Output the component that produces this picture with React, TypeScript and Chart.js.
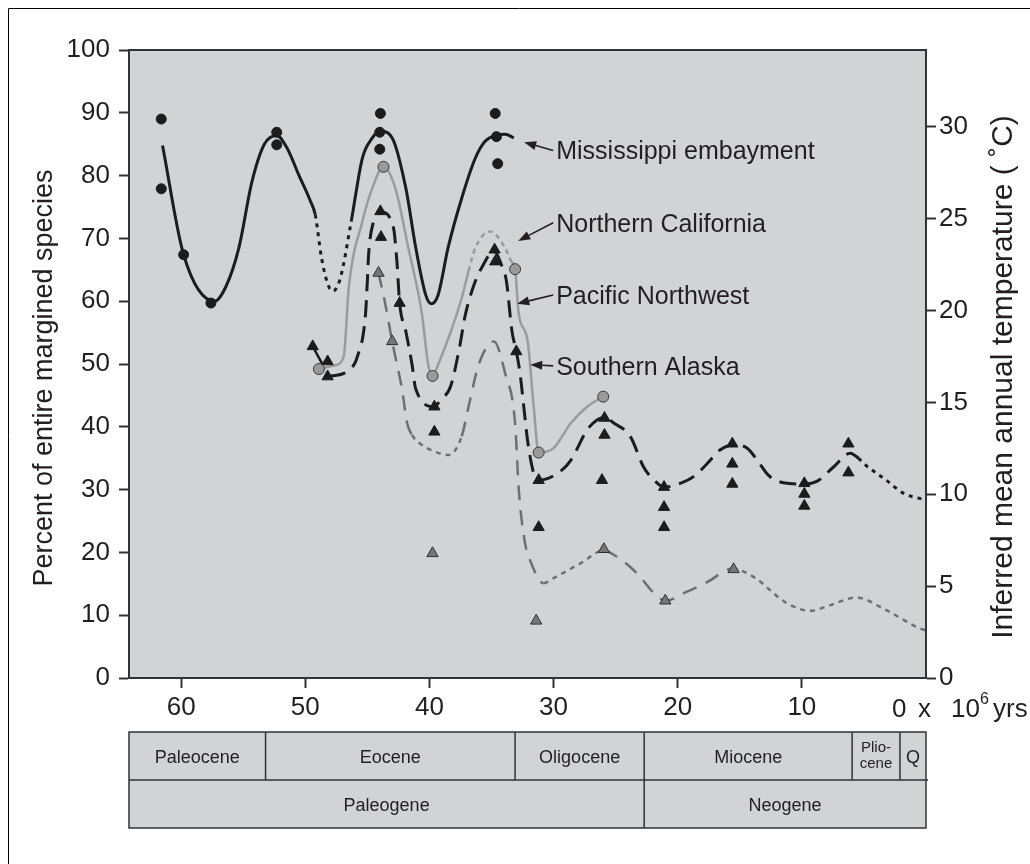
import React, { useEffect, useRef } from "react";
import { Chart, registerables } from "chart.js";

Chart.register(...registerables);

const FONT = "'Liberation Sans', Arial, Helvetica, sans-serif";
const INK = "#231f20";
const BG = "#d1d3d4";

// ---------- Mississippi embayment (black circles, black curve) ----------
const missCurveAge = [61.5, 59.8, 57.3, 56.4, 55.35, 54.3, 53.3, 52.3, 51.5, 50.5, 49.6, 49.2, 48.7, 48.2, 47.8, 47.2, 46.3, 45.4, 44.6, 44.0, 43.0, 41.9, 41.1, 40.3, 39.85, 39.3, 38.5, 37.4, 36.3, 35.5, 34.7, 33.9, 33.2];
const missCurvePct = [84.8, 67.4, 60.0, 62.3, 68.5, 79.0, 85.0, 86.4, 84.5, 80.0, 76.0, 73.8, 67.0, 62.8, 61.6, 63.5, 72.7, 82.8, 86.0, 87.1, 86.0, 78.0, 68.5, 61.0, 59.6, 61.0, 68.5, 76.4, 82.8, 85.5, 86.4, 86.6, 86.0];
const missDottedSpans = [[49.2, 46.3]];
const missPtAge = [61.6, 61.6, 59.8, 57.6, 52.3, 52.3, 43.95, 44.0, 44.0, 34.7, 34.6, 34.5];
const missPtPct = [89.0, 77.9, 67.4, 59.7, 86.9, 84.9, 89.9, 86.9, 84.2, 89.9, 86.2, 81.9];

// ---------- Northern California (grey circles, light grey curve) ----------
const ncalCurveAge = [48.9, 47.6, 46.9, 46.5, 45.4, 44.6, 43.7, 42.75, 41.7, 40.6, 40.1, 39.75, 39.3, 37.4, 36.85, 36.3, 35.1, 33.9, 33.4, 33.1, 32.8, 32.1, 31.6, 31.2, 30.0, 28.6, 27.3, 26.0];
const ncalCurvePct = [49.2, 49.8, 51.2, 62.1, 72.7, 78.0, 81.4, 78.0, 68.5, 57.9, 49.9, 48.1, 49.9, 60.5, 64.8, 68.5, 71.1, 68.5, 66.3, 65.1, 57.9, 53.8, 43.2, 35.9, 36.6, 40.6, 43.2, 44.8];
const ncalDottedSpans = [[36.85, 33.4]];
const ncalPtAge = [48.9, 43.7, 39.75, 33.1, 31.2, 26.0];
const ncalPtPct = [49.2, 81.4, 48.1, 65.1, 35.9, 44.8];

// ---------- Pacific Northwest (black triangles, black dashed curve) ----------
const pnwCurveAge = [48.1, 46.6, 45.8, 45.15, 45.0, 44.9, 44.5, 43.9, 42.9, 42.6, 42.4, 41.9, 41.4, 41.1, 39.6, 39.1, 38.3, 37.6, 37.1, 36.3, 35.8, 34.8, 34.2, 33.8, 33.35, 33.0, 32.7, 32.4, 32.1, 31.6, 31.2, 29.45, 28.6, 27.3, 26.5, 25.9, 25.15, 23.8, 22.75, 21.9, 21.1, 19.8, 18.7, 17.6, 16.6, 15.5, 14.4, 13.6, 12.7, 11.5, 9.9, 8.8, 7.45, 6.1, 5.45, 4.8, 3.2, 1.8, 0.5, 0.0];
const pnwCurvePct = [48.0, 48.9, 51.2, 57.9, 63.2, 67.4, 72.7, 74.2, 71.7, 65.8, 59.7, 55.2, 49.9, 46.0, 43.2, 44.3, 46.4, 52.4, 57.9, 63.2, 65.3, 68.0, 65.8, 63.2, 55.2, 52.0, 48.5, 43.2, 37.9, 32.6, 31.5, 32.9, 34.7, 39.5, 41.1, 41.5, 40.6, 38.4, 33.6, 31.5, 30.4, 31.0, 32.1, 34.2, 36.3, 37.1, 36.6, 34.7, 32.3, 31.1, 30.9, 31.3, 33.6, 35.8, 35.0, 33.8, 31.5, 29.4, 28.6, 28.5];
const pnwDottedSpans = [[5.45, 0]];
const pnwLinkAge = [49.4, 48.6];
const pnwLinkPct = [52.8, 49.9];
const pnwPtAge = [49.4, 48.2, 48.2, 43.95, 43.9, 42.4, 39.6, 39.6, 34.75, 34.7, 33.0, 31.2, 31.2, 25.9, 25.9, 26.1, 21.1, 21.1, 21.1, 15.6, 15.6, 15.6, 9.8, 9.8, 9.8, 6.25, 6.25];
const pnwPtPct = [52.8, 50.4, 48.0, 74.3, 70.2, 59.7, 43.2, 39.2, 68.2, 66.3, 52.0, 31.5, 24.0, 41.4, 38.7, 31.5, 30.4, 27.2, 24.0, 37.3, 34.1, 30.9, 31.0, 29.3, 27.4, 37.3, 32.7];

// ---------- Southern Alaska (grey triangles, grey dashed curve) ----------
const akCurveAge = [44.1, 43.6, 43.0, 42.75, 42.2, 41.8, 41.4, 40.6, 39.5, 38.45, 37.4, 36.85, 36.0, 34.8, 33.9, 33.1, 32.8, 32.3, 31.9, 30.8, 30.0, 27.8, 25.95, 24.9, 23.3, 21.9, 21.0, 19.3, 17.6, 15.6, 13.9, 11.2, 9.3, 8.0, 5.6, 3.2, 0.5, 0.0];
const akCurvePct = [64.5, 60.0, 53.6, 51.2, 45.9, 40.6, 38.7, 37.1, 36.0, 35.5, 38.5, 43.2, 50.1, 53.6, 48.5, 40.6, 29.9, 21.5, 18.8, 15.1, 15.9, 18.3, 20.3, 19.3, 16.7, 13.5, 12.3, 13.7, 15.3, 17.4, 16.1, 11.9, 10.7, 11.4, 12.8, 10.8, 7.9, 7.6];
const akDottedSpans = [[41.4, 37.4], [30.8, 25.95], [15.6, 0]];
const akPtAge = [44.1, 43.0, 39.75, 31.4, 25.95, 21.0, 15.5];
const akPtPct = [64.5, 53.6, 19.85, 9.1, 20.5, 12.3, 17.3];

// ---------- axes ----------
const ageMax = 64.2;
const ageStep = 10;
const pctTicksStep = 10;
const tempMax = 34.18; // temperature equivalent of 100 %
const tempStep = 5;

// ---------- annotations ----------
const annotLabels = ["Mississippi embayment", "Northern California", "Pacific Northwest", "Southern Alaska"];
const annotTipAge = [32.37, 32.85, 32.93, 31.88];
const annotTipPct = [85.3, 69.6, 59.6, 49.9];
const annotTailAge = 30.03;
const annotTailPct = [84.0, 72.5, 61.0, 49.7];

// ---------- geological time scale ----------
const epochNames = ["Paleocene", "Eocene", "Oligocene", "Miocene", "Plio-|cene", "Q"];
const epochBounds = [64.2, 53.2, 33.1, 22.7, 5.95, 2.1, 0];
const periodNames = ["Paleogene", "Neogene"];
const periodBounds = [64.2, 22.7, 0];

type Pt = { x: number; y: number };
const zip = (a: number[], b: number[]): Pt[] => a.map((x, i) => ({ x, y: b[i] }));

const dashBy = (ages: number[], spans: number[][], dotted: number[], other: number[]) => (c: any) => {
  const a0 = ages[c.p0DataIndex];
  const a1 = ages[c.p1DataIndex];
  const mid = (a0 + a1) / 2;
  return spans.some(([hi, lo]) => mid <= hi && mid >= lo) ? dotted : other;
};

function arrow(ctx: CanvasRenderingContext2D, x1: number, y1: number, x2: number, y2: number) {
  const ang = Math.atan2(y2 - y1, x2 - x1);
  const hl = 12, hw = 4.5;
  const bx = x2 - Math.cos(ang) * hl, by = y2 - Math.sin(ang) * hl;
  ctx.beginPath();
  ctx.moveTo(x1, y1);
  ctx.lineTo(bx, by);
  ctx.stroke();
  ctx.beginPath();
  ctx.moveTo(x2, y2);
  ctx.lineTo(bx + Math.sin(ang) * hw, by - Math.cos(ang) * hw);
  ctx.lineTo(bx - Math.sin(ang) * hw, by + Math.cos(ang) * hw);
  ctx.closePath();
  ctx.fill();
}

const decor = {
  id: "decor",
  beforeDraw(chart: any) {
    const { ctx, chartArea: a } = chart;
    ctx.save();
    ctx.fillStyle = "#ffffff";
    ctx.fillRect(0, 0, chart.width, chart.height);
    ctx.fillStyle = BG;
    ctx.fillRect(a.left, a.top, a.right - a.left, a.bottom - a.top);
    ctx.restore();
  },
  afterDatasetsDraw(chart: any) {
    const { ctx } = chart;
    const xs = chart.scales.x, ys = chart.scales.y;
    ctx.save();
    ctx.strokeStyle = INK;
    ctx.fillStyle = INK;
    ctx.lineWidth = 1.6;
    ctx.font = `25px ${FONT}`;
    ctx.textBaseline = "middle";
    ctx.textAlign = "left";
    annotLabels.forEach((t, i) => {
      const tx = xs.getPixelForValue(annotTailAge);
      const ty = ys.getPixelForValue(annotTailPct[i]);
      arrow(ctx, tx, ty, xs.getPixelForValue(annotTipAge[i]), ys.getPixelForValue(annotTipPct[i]));
      ctx.fillText(t, tx + 3, ty + 2);
    });
    ctx.restore();
  },
  afterDraw(chart: any) {
    const { ctx, chartArea: a } = chart;
    const xs = chart.scales.x;
    ctx.save();
    // plot frame
    ctx.strokeStyle = "#333";
    ctx.lineWidth = 2;
    ctx.strokeRect(a.left, a.top, a.right - a.left, a.bottom - a.top);

    ctx.fillStyle = INK;
    // axis titles
    ctx.textAlign = "center";
    ctx.textBaseline = "middle";
    ctx.font = `27px ${FONT}`;
    ctx.save();
    ctx.translate(45, 378);
    ctx.rotate(-Math.PI / 2);
    ctx.fillText("Percent of entire margined species", 0, 0);
    ctx.restore();
    ctx.font = `30px ${FONT}`;
    ctx.save();
    ctx.translate(1004, 377);
    ctx.rotate(-Math.PI / 2);
    ctx.fillText("Inferred mean annual temperature ( ˚C)", 0, 0);
    ctx.restore();

    // x unit label
    ctx.textAlign = "left";
    ctx.textBaseline = "alphabetic";
    ctx.font = `26px ${FONT}`;
    ctx.fillText("0", 892, 717);
    ctx.fillText("x", 918, 717);
    ctx.fillText("10", 951, 717);
    ctx.fillText("yrs", 993, 717);
    ctx.font = `16px ${FONT}`;
    ctx.fillText("6", 980, 704);

    // geological time scale table
    const top = 732, mid = 780, bot = 828;
    const L = xs.getPixelForValue(epochBounds[0]);
    const R = xs.getPixelForValue(0);
    ctx.fillStyle = BG;
    ctx.fillRect(L, top, R - L, bot - top);
    ctx.strokeStyle = "#333";
    ctx.lineWidth = 1.5;
    ctx.strokeRect(L, top, R - L, bot - top);
    ctx.beginPath();
    ctx.moveTo(L, mid);
    ctx.lineTo(R + 2, mid);
    ctx.stroke();
    ctx.fillStyle = INK;
    ctx.textAlign = "center";
    ctx.textBaseline = "middle";
    for (let i = 0; i < epochNames.length; i++) {
      const x0 = xs.getPixelForValue(epochBounds[i]);
      const x1 = xs.getPixelForValue(epochBounds[i + 1]);
      if (i > 0) {
        ctx.beginPath();
        ctx.moveTo(x0, top);
        ctx.lineTo(x0, mid);
        ctx.stroke();
      }
      const cx = (x0 + x1) / 2;
      const parts = epochNames[i].split("|");
      if (parts.length > 1) {
        ctx.font = `15px ${FONT}`;
        ctx.fillText(parts[0], cx, (top + mid) / 2 - 8);
        ctx.fillText(parts[1], cx, (top + mid) / 2 + 8);
      } else {
        ctx.font = `18px ${FONT}`;
        ctx.fillText(parts[0], cx, (top + mid) / 2 + 2);
      }
    }
    ctx.font = `18px ${FONT}`;
    for (let i = 0; i < periodNames.length; i++) {
      const x0 = xs.getPixelForValue(periodBounds[i]);
      const x1 = xs.getPixelForValue(periodBounds[i + 1]);
      if (i > 0) {
        ctx.beginPath();
        ctx.moveTo(x0, mid);
        ctx.lineTo(x0, bot);
        ctx.stroke();
      }
      ctx.fillText(periodNames[i], (x0 + x1) / 2, (mid + bot) / 2 + 2);
    }

    // outer frame (left/top)
    ctx.strokeStyle = "#000";
    ctx.lineWidth = 1;
    ctx.beginPath();
    ctx.moveTo(8.5, 864);
    ctx.lineTo(8.5, 8.5);
    ctx.lineTo(1030, 8.5);
    ctx.stroke();
    ctx.restore();
  },
};

export default function App() {
  const ref = useRef<HTMLCanvasElement | null>(null);
  useEffect(() => {
    const canvas = ref.current;
    if (!canvas) return;
    const tickFont = { size: 26, family: FONT };
    const grid = { drawOnChartArea: false, tickLength: 10, tickColor: "#333", tickWidth: 2 };
    const border = { color: "#333", width: 2 };
    const lineBase = { showLine: true, pointRadius: 0, fill: false, cubicInterpolationMode: "monotone" as const, order: 2 };
    const chart = new Chart(canvas, {
      type: "scatter",
      data: {
        datasets: [
          { ...lineBase, label: "Mississippi curve", data: zip(missCurveAge, missCurvePct), borderColor: "#1c1c1c", borderWidth: 3,
            segment: { borderDash: dashBy(missCurveAge, missDottedSpans, [4, 5], []) } },
          { ...lineBase, label: "N California curve", data: zip(ncalCurveAge, ncalCurvePct), borderColor: "#9b9b9b", borderWidth: 2.5,
            segment: { borderDash: dashBy(ncalCurveAge, ncalDottedSpans, [5, 4], []) } },
          { ...lineBase, label: "Pacific NW curve", data: zip(pnwCurveAge, pnwCurvePct), borderColor: "#1c1c1c", borderWidth: 3,
            segment: { borderDash: dashBy(pnwCurveAge, pnwDottedSpans, [4, 5], [17, 9]) } },
          { ...lineBase, label: "Pacific NW link", data: zip(pnwLinkAge, pnwLinkPct), borderColor: "#1c1c1c", borderWidth: 2.5, cubicInterpolationMode: "default" as const },
          { ...lineBase, label: "S Alaska curve", data: zip(akCurveAge, akCurvePct), borderColor: "#6f6f6f", borderWidth: 2.5,
            segment: { borderDash: dashBy(akCurveAge, akDottedSpans, [5, 5], [15, 10]) } },
          { label: "Mississippi", data: zip(missPtAge, missPtPct), pointStyle: "circle", pointRadius: 5, backgroundColor: "#1c1c1c", borderColor: "#1c1c1c", borderWidth: 1, order: 0 },
          { label: "N California", data: zip(ncalPtAge, ncalPtPct), pointStyle: "circle", pointRadius: 5.5, backgroundColor: "#9a9a9a", borderColor: "#3a3a3a", borderWidth: 1, order: 0 },
          { label: "Pacific NW", data: zip(pnwPtAge, pnwPtPct), pointStyle: "triangle", pointRadius: 6.5, backgroundColor: "#1c1c1c", borderColor: "#1c1c1c", borderWidth: 1, order: 0 },
          { label: "S Alaska", data: zip(akPtAge, akPtPct), pointStyle: "triangle", pointRadius: 6.5, backgroundColor: "#767676", borderColor: "#2f2f2f", borderWidth: 1, order: 0 },
        ] as any,
      },
      options: {
        responsive: false,
        animation: false,
        layout: { padding: { top: 50, left: 0, right: 0, bottom: 0 } },
        plugins: { legend: { display: false }, tooltip: { enabled: false } },
        scales: {
          x: {
            type: "linear", position: "bottom", reverse: true, min: 0, max: ageMax,
            afterFit: (s: any) => { s.height = 186; },
            afterBuildTicks: (s: any) => { s.ticks = s.ticks.filter((t: any) => t.value > 0.5); },
            ticks: { stepSize: ageStep, includeBounds: false, padding: 4, color: INK, font: tickFont, maxRotation: 0, autoSkip: false },
            grid, border,
          },
          y: {
            type: "linear", position: "left", min: 0, max: 100,
            afterFit: (s: any) => { s.width = 129; },
            ticks: { stepSize: pctTicksStep, padding: 9, color: INK, font: tickFont },
            grid, border,
          },
          y2: {
            type: "linear", position: "right", min: 0, max: tempMax,
            afterFit: (s: any) => { s.width = 104; },
            ticks: { stepSize: tempStep, includeBounds: false, padding: 3, color: INK, font: tickFont },
            grid, border,
          },
        },
      } as any,
      plugins: [decor],
    });
    return () => chart.destroy();
  }, []);
  return (
    <div style={{ position: "absolute", left: 0, top: 0, width: 1030, height: 864 }}>
      <canvas ref={ref} width={1030} height={864} style={{ display: "block", width: 1030, height: 864 }} />
    </div>
  );
}
